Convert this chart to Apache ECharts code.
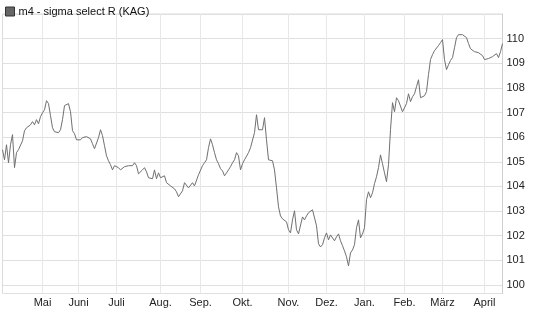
<!DOCTYPE html>
<html>
<head>
<meta charset="utf-8">
<script src="https://cdn.jsdelivr.net/npm/echarts@6/dist/echarts.min.js"></script>
<style>
html,body{margin:0;padding:0;background:#fff;}
#chart{width:545px;height:327px;}
</style>
</head>
<body>
<div id="chart"></div>
<script>
var seriesName = 'm4 - sigma select R (KAG)';
var values = [
105.49,105.08,105.69,104.96,105.69,106.10,104.76,105.37,105.49,105.53,
105.85,106.26,106.38,106.46,106.50,106.63,106.50,106.71,106.54,106.83,
106.99,107.11,107.48,107.36,106.87,106.38,106.22,106.22,106.18,106.30,
106.71,107.28,107.32,107.36,107.03,106.26,106.14,105.89,105.85,105.89,
105.98,106.06,106.02,106.02,105.93,105.73,105.53,105.49,105.98,106.30,
106.06,105.65,105.24,105.04,104.88,104.67,104.84,104.80,104.76,104.67,
104.72,104.80,104.76,104.84,104.88,104.84,104.96,104.84,104.51,104.59,
104.67,104.76,104.59,104.35,104.27,104.31,104.67,104.31,104.55,104.35,
104.43,104.43,104.15,104.11,104.02,103.94,103.90,103.78,103.58,103.58,
103.82,104.15,104.15,103.94,103.90,104.15,104.02,104.07,104.47,104.51,
104.84,104.96,105.08,105.57,105.93,105.69,105.37,105.08,104.92,104.72,
104.63,104.43,104.55,104.67,104.80,104.96,105.08,105.37,105.24,104.67,
104.92,105.08,105.08,105.37,105.57,105.53,106.18,106.91,106.30,106.26,
106.30,106.79,105.89,105.08,105.00,105.04,104.67,103.94,103.17,102.80,
102.68,102.64,102.56,102.24,102.11,102.64,103.01,102.24,102.07,102.15,
102.76,102.64,102.80,102.93,102.89,103.05,103.05,102.40,101.67,101.54,
101.63,101.91,102.11,101.83,102.03,102.03,101.79,101.95,102.07,101.79,
101.59,101.38,101.14,100.77,101.30,101.42,101.63,102.32,102.64,101.91,
102.07,102.32,103.46,103.78,103.54,103.74,104.11,104.39,104.76,105.28,
104.92,104.55,104.19,104.88,106.30,107.40,107.03,107.60,107.48,107.52,
107.03,106.99,107.36,107.76,107.44,107.64,107.76,108.05,108.33,107.60,
107.60,107.68,107.85,108.54,109.15,109.35,109.51,109.59,109.72,109.84,
109.96,109.15,108.74,108.94,109.11,109.23,109.63,110.04,110.16,110.20,
110.16,110.08,110.04,109.80,109.59,109.51,109.47,109.47,109.43,109.47,
109.31,109.15,109.15,109.19,109.23,109.27,109.27,109.39,109.23,109.47,
109.80
];
var monthNames = ['Mai','Juni','Juli','Aug.','Sep.','Okt.','Nov.','Dez.','Jan.','Feb.','März','April'];
var monthStartIdx = [20,38,57,79,99,120,143,162,181,201,220,241];

var categories = values.map(function (v, i) {
  var k = monthStartIdx.indexOf(i);
  return k >= 0 ? monthNames[k] : '';
});
function isMonthStart(index, value) { return categories[index] !== ''; }

var chart = echarts.init(document.getElementById('chart'), null, {renderer: 'canvas'});
chart.setOption({
  animation: false,
  backgroundColor: '#fff',
  textStyle: {fontFamily: 'Liberation Sans, Arial, sans-serif'},
  legend: {
    show: true,
    left: 0,
    top: 1,
    itemWidth: 9,
    itemHeight: 9,
    itemGap: 4,
    icon: 'rect',
    data: [{name: seriesName, itemStyle: {color: '#666', borderColor: '#333', borderWidth: 1}}],
    textStyle: {fontSize: 11, color: '#111', fontFamily: 'Liberation Sans, Arial, sans-serif', padding: [0,0,0,-1]}
  },
  grid: {
    left: 2.5,
    right: 42.5,
    top: 14,
    bottom: 33.5,
    show: true,
    borderColor: '#dcdcdc',
    borderWidth: 1,
    containLabel: false
  },
  xAxis: {
    type: 'category',
    boundaryGap: false,
    data: categories,
    axisLine: {show: false},
    axisTick: {show: false},
    axisLabel: {
      interval: isMonthStart,
      fontSize: 11,
      color: '#222',
      margin: 4,
      fontFamily: 'Liberation Sans, Arial, sans-serif'
    },
    splitLine: {show: true, interval: isMonthStart, lineStyle: {color: '#e8e8e8', width: 1}}
  },
  yAxis: {
    type: 'value',
    position: 'right',
    min: 99.65,
    max: 111,
    splitNumber: 11,
    axisLine: {show: true, lineStyle: {color: '#cfcfcf'}},
    axisTick: {show: false},
    axisLabel: {
      fontSize: 11,
      color: '#222',
      margin: 4,
      showMinLabel: false,
      showMaxLabel: false,
      fontFamily: 'Liberation Sans, Arial, sans-serif'
    },
    splitLine: {show: true, lineStyle: {color: '#e0e0e0', width: 1}}
  },
  series: [{
    name: seriesName,
    type: 'line',
    data: values,
    showSymbol: false,
    symbol: 'none',
    lineStyle: {color: '#707070', width: 1},
    itemStyle: {color: '#666'},
    clip: false
  }]
});
</script>
</body>
</html>
